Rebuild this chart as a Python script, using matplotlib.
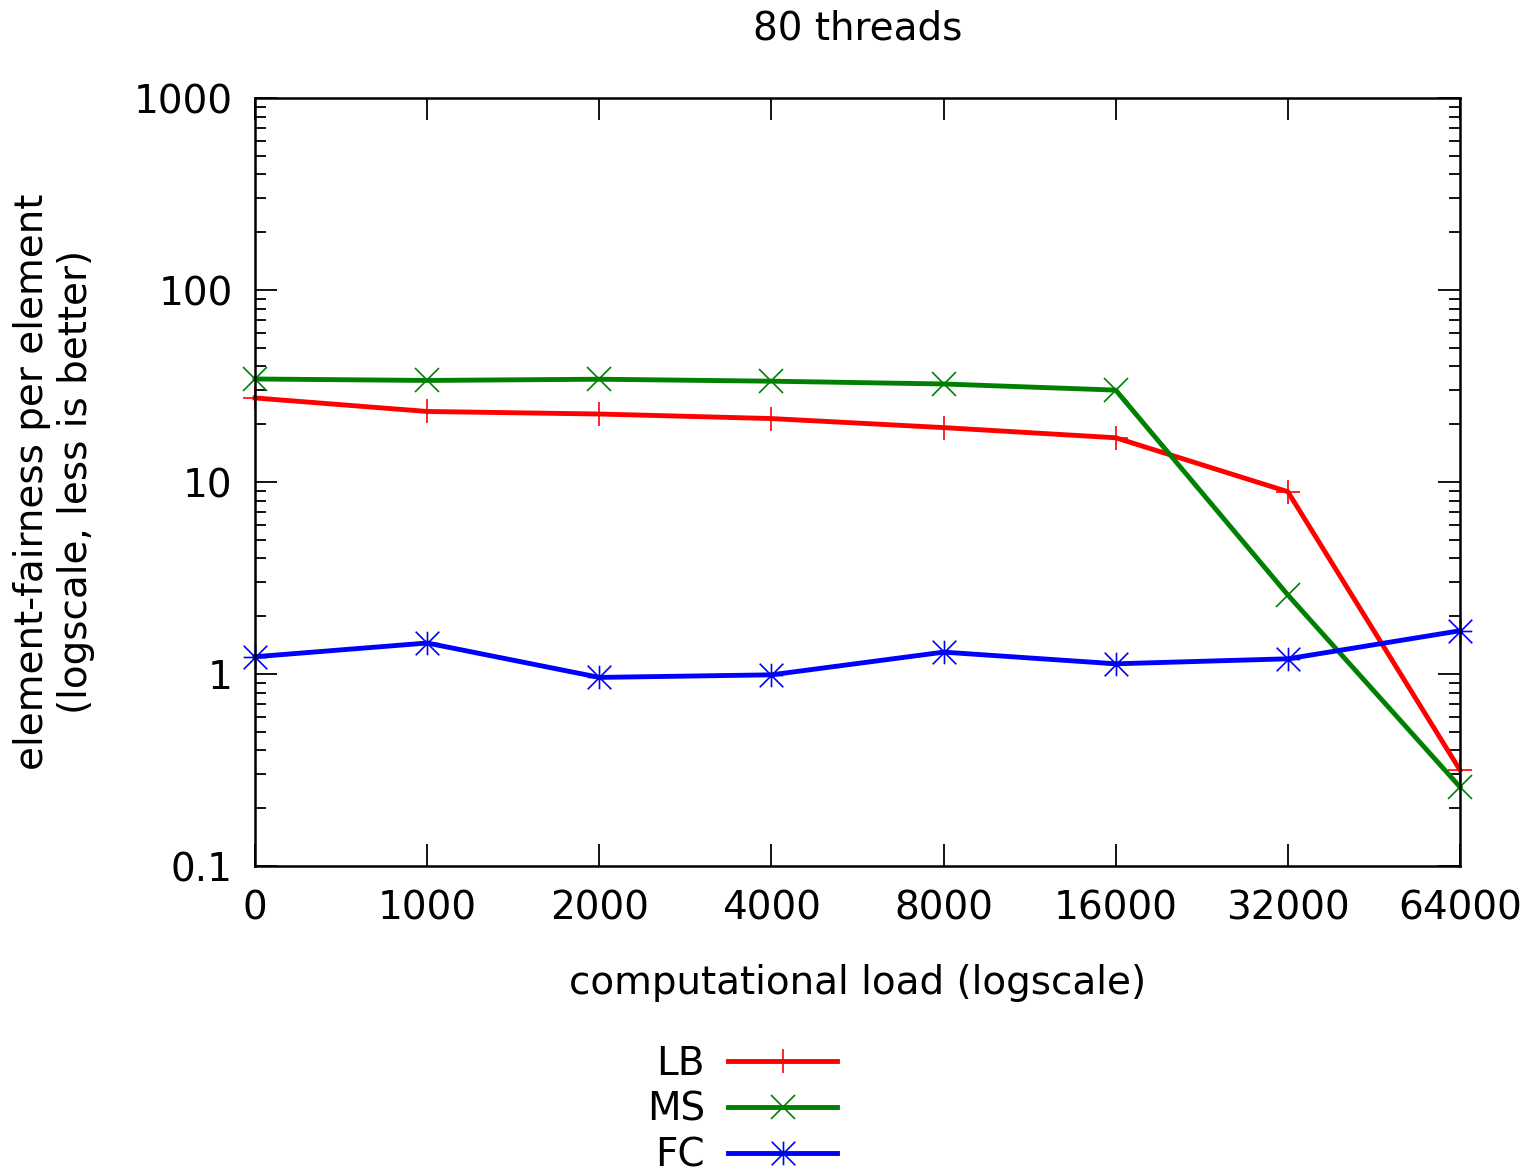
import numpy as np
import matplotlib.pyplot as plt
from matplotlib.path import Path
from matplotlib.ticker import LogLocator, NullFormatter, FixedLocator

loads = ['0', '1000', '2000', '4000', '8000', '16000', '32000', '64000']
lb = [27.4, 23.3, 22.6, 21.4, 19.2, 17.0, 8.9, 0.316]
ms = [34.4, 33.8, 34.3, 33.5, 32.4, 30.1, 2.58, 0.258]
fc = [1.23, 1.45, 0.96, 0.99, 1.30, 1.13, 1.20, 1.68]

plt.rcParams['font.family'] = 'DejaVu Sans'
plt.rcParams['font.size'] = 28

# gnuplot-style asterisk: plus and cross on top of each other
star = Path([(-1, 0), (1, 0), (0, -1), (0, 1), (-1, -1), (1, 1), (-1, 1), (1, -1)],
            [Path.MOVETO, Path.LINETO] * 4)

fig = plt.figure(figsize=(15.27, 11.72), dpi=100)
ax = fig.add_axes([255 / 1527, 1 - 866 / 1172, (1460 - 255) / 1527, (866 - 98) / 1172])

x = np.arange(len(loads))
style = dict(lw=3.5, ms=17, mew=1.2, clip_on=False)
ax.plot(x, lb, color='#ff0000', marker='+', label='LB', **style)
ax.plot(x, ms, color='#008000', marker='x', label='MS', **style)
ax.plot(x, fc, color='#0000ff', marker=star, label='FC', **style)

ax.set_yscale('log')
ax.set_ylim(0.1, 1000)
ax.set_xlim(0, len(loads) - 1)
ax.set_yticks([0.1, 1, 10, 100, 1000])
ax.set_yticklabels(['0.1', '1', '10', '100', '1000'])
ax.yaxis.set_minor_locator(LogLocator(base=10, subs=np.arange(2, 10), numticks=20))
ax.yaxis.set_minor_formatter(NullFormatter())
ax.xaxis.set_major_locator(FixedLocator(x))
ax.set_xticklabels(loads)

for s in ax.spines.values():
    s.set_linewidth(1.8)
ax.tick_params(axis='both', which='major', direction='in', length=16, width=1.3,
               top=True, right=True)
ax.tick_params(axis='y', which='minor', direction='in', length=8, width=1.3, right=True)
ax.tick_params(axis='x', which='major', pad=17)
ax.tick_params(axis='y', which='major', pad=16)

ax.set_title('80 threads', fontsize=28, pad=42)
ax.set_xlabel('computational load (logscale)', labelpad=26)
ax.set_ylabel('element-fairness per element\n(logscale, less is better)', labelpad=28)

fig.legend(loc='upper center', bbox_to_anchor=(0.486, 0.122), frameon=False,
           markerfirst=False, handlelength=2.8, labelspacing=0.2, handletextpad=0.6,
           borderaxespad=0)

fig.savefig('out.png', dpi=100)
